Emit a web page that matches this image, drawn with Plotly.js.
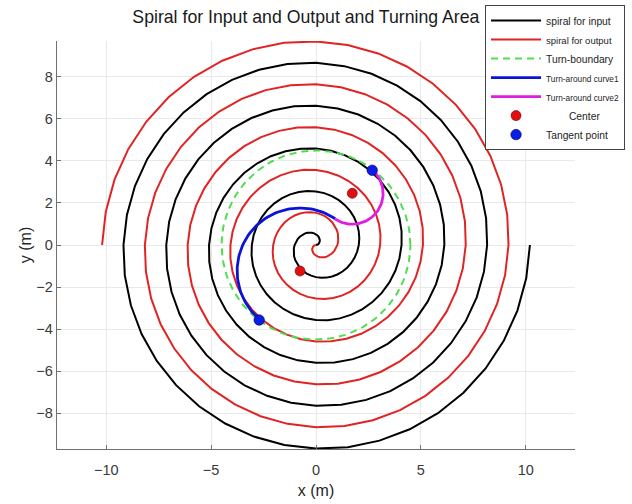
<!DOCTYPE html>
<html>
<head>
<meta charset="utf-8">
<script src="https://cdn.plot.ly/plotly-3.0.1.min.js"></script>
<style>html,body{margin:0;padding:0;background:#fff;}#chart{width:632px;height:504px;}</style>
</head>
<body>
<div id="chart"></div>
<script>
// ---- values ----
// Archimedean spiral (input); output spiral is the same rotated by 180 degrees
const spiralOuterRadius = [10.2];      // radius where both spirals end (m)
const spiralTurns = [5];               // number of turns
const spiralStepDeg = [9];             // sampling step of the polyline (deg)
// turning-area boundary circle
const boundaryCenter = [0, 0];
const boundaryRadius = [4.5];
// centers of the two turn-around arcs
const centerX = [-0.76, 1.73];
const centerY = [-1.24, 2.46];
// tangent points (lower on output spiral, upper on input spiral)
const tangentX = [-2.71, 2.68];
const tangentY = [-3.57, 3.56];
// arc radii of turn-around curve 1 and curve 2
const arcRadius = [3.0, 1.47];
// legend labels
const legendNames = ['spiral for input', 'spiral for output', 'Turn-boundary',
  'Turn-around curve1', 'Turn-around curve2', 'Center', 'Tangent point'];

// ---- geometry built from those values ----
const thetaEnd = spiralTurns[0] * 2 * Math.PI;
const a = spiralOuterRadius[0] / thetaEnd;
const step = spiralStepDeg[0] * Math.PI / 180;
const inX = [], inY = [], outX = [], outY = [];
const nS = Math.round(thetaEnd / step);
for (let i = 0; i <= nS; i++) {
  const t = i * step;
  const r = a * t;
  inX.push(r * Math.cos(t)); inY.push(r * Math.sin(t));
  outX.push(-r * Math.cos(t)); outY.push(-r * Math.sin(t));
}
const bX = [], bY = [];
for (let d = 0; d <= 360; d += 2) {
  bX.push(boundaryCenter[0] + boundaryRadius[0] * Math.cos(d * Math.PI / 180));
  bY.push(boundaryCenter[1] + boundaryRadius[0] * Math.sin(d * Math.PI / 180));
}
function arc(cx, cy, r, a0, a1) {
  const xs = [], ys = [], n = 80;
  for (let i = 0; i <= n; i++) {
    const t = a0 + (a1 - a0) * i / n;
    xs.push(cx + r * Math.cos(t)); ys.push(cy + r * Math.sin(t));
  }
  return [xs, ys];
}
// joint direction between the two arc centres
const joint = Math.atan2(centerY[1] - centerY[0], centerX[1] - centerX[0]);
// curve 1: from lower tangent point, clockwise round centre 1 to the joint
let s1 = Math.atan2(tangentY[0] - centerY[0], tangentX[0] - centerX[0]);
if (s1 < joint) s1 += 2 * Math.PI;
const c1 = arc(centerX[0], centerY[0], arcRadius[0], s1, joint);
// curve 2: from the joint, counter-clockwise round centre 2 to upper tangent point
const s2 = joint + Math.PI;
let e2 = Math.atan2(tangentY[1] - centerY[1], tangentX[1] - centerX[1]);
while (e2 < s2) e2 += 2 * Math.PI;
const c2 = arc(centerX[1], centerY[1], arcRadius[1], s2, e2);

const nb = '\u00a0';
const traces = [
  {x: inX, y: inY, mode: 'lines', name: legendNames[0], line: {color: '#000000', width: 2}},
  {x: outX, y: outY, mode: 'lines', name: '<span style="font-size:9.5px">' + legendNames[1] + '</span>', line: {color: '#e02424', width: 2}},
  {x: bX, y: bY, mode: 'lines', name: legendNames[2], line: {color: 'rgb(80,222,80)', width: 2, dash: '7px,5px'}},
  {x: c1[0], y: c1[1], mode: 'lines', name: '<span style="font-size:8.3px">' + legendNames[3] + '</span>', line: {color: '#0a14d6', width: 2.8}},
  {x: c2[0], y: c2[1], mode: 'lines', name: '<span style="font-size:8.3px">' + legendNames[4] + '</span>', line: {color: '#e01ee0', width: 2.8}},
  {x: centerX, y: centerY, mode: 'markers', name: nb.repeat(8) + legendNames[5], marker: {color: '#e01010', size: 10, line: {color: '#700000', width: 0.6}}},
  {x: tangentX, y: tangentY, mode: 'markers', name: legendNames[6], marker: {color: '#0a1ee6', size: 10.5, line: {color: '#000070', width: 0.6}}}
];

const fontFam = 'Liberation Sans, Arial, Helvetica, sans-serif';
const layout = {
  width: 632, height: 504,
  margin: {l: 57, r: 57, t: 41, b: 55, pad: 0, autoexpand: false},
  paper_bgcolor: '#ffffff', plot_bgcolor: '#ffffff',
  font: {family: fontFam, color: '#262626'},
  title: {text: 'Spiral for Input and Output and Turning Area', font: {size: 17.7, color: '#1a1a1a', family: fontFam},
          xref: 'container', x: 0.484, xanchor: 'center', yref: 'container', y: 0.966, yanchor: 'middle'},
  xaxis: {range: [-12.35, 12.35], tickvals: [-10, -5, 0, 5, 10], showgrid: true, gridcolor: '#e9e9e9', gridwidth: 1,
          zeroline: false, showline: true, linecolor: '#707070', linewidth: 1.3, ticks: 'inside', ticklen: 4,
          tickcolor: '#707070', tickfont: {size: 14.5, color: '#3a3a3a'}, ticklabelstandoff: 7, automargin: false,
          title: {text: 'x (m)', font: {size: 16, color: '#262626'}, standoff: 8}, fixedrange: true},
  yaxis: {range: [-9.71, 9.71], tickvals: [-8, -6, -4, -2, 0, 2, 4, 6, 8], showgrid: true, gridcolor: '#e9e9e9', gridwidth: 1,
          zeroline: false, showline: true, linecolor: '#707070', linewidth: 1.3, ticks: 'inside', ticklen: 4,
          tickcolor: '#707070', tickfont: {size: 14.5, color: '#3a3a3a'}, ticklabelstandoff: 0, automargin: false,
          title: {text: 'y (m)', font: {size: 16, color: '#262626'}, standoff: 0}, fixedrange: true},
  showlegend: true,
  legend: {x: 1.0966, y: 1.088, xanchor: 'right', yanchor: 'top', bgcolor: '#ffffff', bordercolor: '#444444', borderwidth: 1,
           font: {size: 10.3, color: '#1e1e1e', family: fontFam}, itemwidth: 50, tracegroupgap: 0}
};
Plotly.newPlot('chart', traces, layout, {displayModeBar: false, staticPlot: true});
</script>
</body>
</html>
